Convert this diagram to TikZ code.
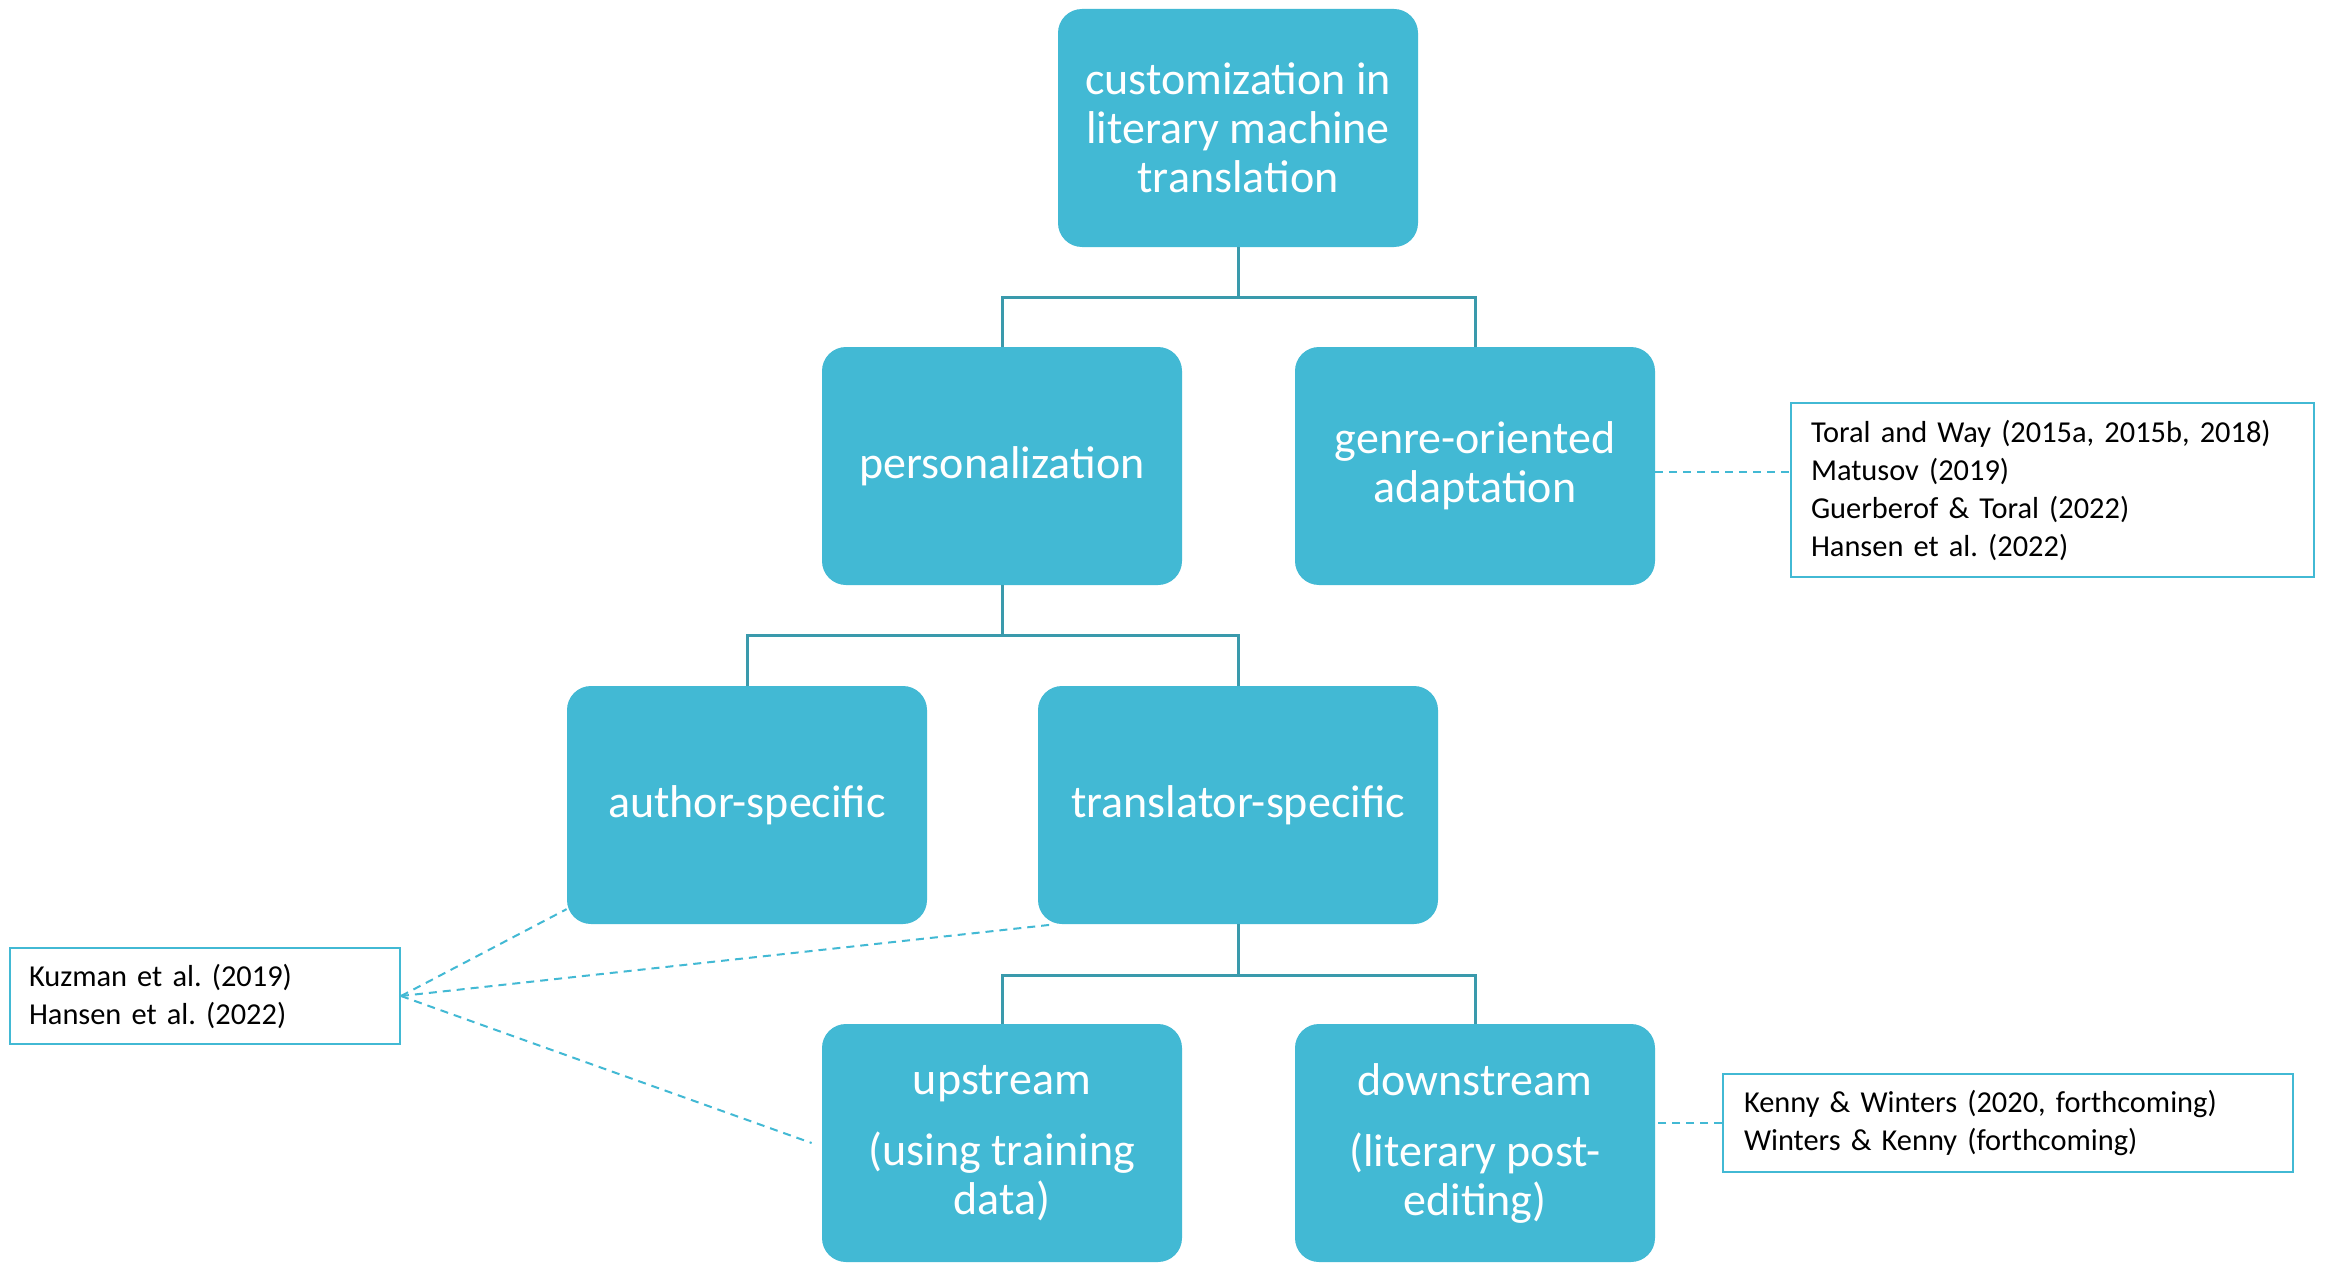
\documentclass[tikz,border=0pt]{standalone}
\usepackage{fontspec}
\setmainfont{Carlito}
\usepackage{xcolor}
\usepackage{tikz}
\usetikzlibrary{positioning}
\definecolor{boxblue}{HTML}{42B9D4}
\definecolor{linkteal}{HTML}{3A9AAC}
\frenchspacing

\begin{document}
\begin{tikzpicture}[x=0.5pt, y=-0.5pt, on grid,
	main/.style = {fill=boxblue, rounded corners=12pt, text=white, align=center, inner sep=0pt,
		minimum width=180pt, minimum height=119pt, font=\fontsize{23}{24.5}\selectfont},
	refs/.style = {draw=boxblue, line width=1pt, anchor=west, align=left, inner xsep=10pt,
		font=\fontsize{15.2}{19}\selectfont},
	tree/.style = {draw=linkteal, line width=1.5pt},
	cite/.style = {draw=boxblue, line width=1pt, dash pattern=on 4pt off 3pt}]
	\useasboundingbox[fill=white] (0,0) rectangle (2326,1263);
	% the tree
	\node[main] (custom) at (1238,128) {customization in\\literary machine\\translation};
	\node[main, below left=169pt and 118pt of custom] (personal) {personalization};
	\node[main, below right=169pt and 118.5pt of custom] (genre) {genre-oriented\\adaptation};
	\node[main, below left=169.5pt and 127.5pt of personal] (author) {author-specific};
	\node[main, minimum width=200pt, below right=169.5pt and 118pt of personal] (translator) {translator-specific};
	\node[main, below left=169pt and 118pt of translator] (upstream) {upstream\\[11pt](using training\\data)};
	\node[main, below right=169pt and 118.5pt of translator] (downstream) {downstream\\[11pt](literary post-\\editing)};
	\draw[tree] (custom.south) -- ++(0,50) -| (personal.north);
	\draw[tree] (custom.south) -- ++(0,50) -| (genre.north);
	\draw[tree] (personal.south) -- ++(0,50) -| (author.north);
	\draw[tree] (personal.south) -- ++(0,50) -| (translator.north);
	\draw[tree] (translator.south) -- ++(0,51) -| (upstream.north);
	\draw[tree] (translator.south) -- ++(0,51) -| (downstream.north);
	% references
	\node[refs, text width=241.5pt, minimum height=87pt] (genrerefs) at (1790,490)
		{Toral and Way (2015a, 2015b, 2018)\\Matusov (2019)\\Guerberof \& Toral (2022)\\Hansen et al. (2022)};
	\node[refs, text width=176pt, minimum height=48pt, inner xsep=9.5pt] (personalrefs) at (9,996)
		{Kuzman et al. (2019)\\Hansen et al. (2022)};
	\node[refs, text width=264pt, minimum height=49pt, inner xsep=10.5pt] (downrefs) at (1722,1123)
		{Kenny \& Winters (2020, forthcoming)\\Winters \& Kenny (forthcoming)};
	\draw[cite] ([yshift=-3pt]genre.east) -- ([yshift=-3pt]genre.east -| genrerefs.west);
	\draw[cite] (downrefs.west) -- (downrefs.west -| downstream.east);
	\draw[cite] (personalrefs.east) -- (author.210);
	\draw[cite] (personalrefs.east) -- (translator.213);
	\draw[cite] (personalrefs.east) -- ([xshift=-5pt]upstream.west);
\end{tikzpicture}
\end{document}
